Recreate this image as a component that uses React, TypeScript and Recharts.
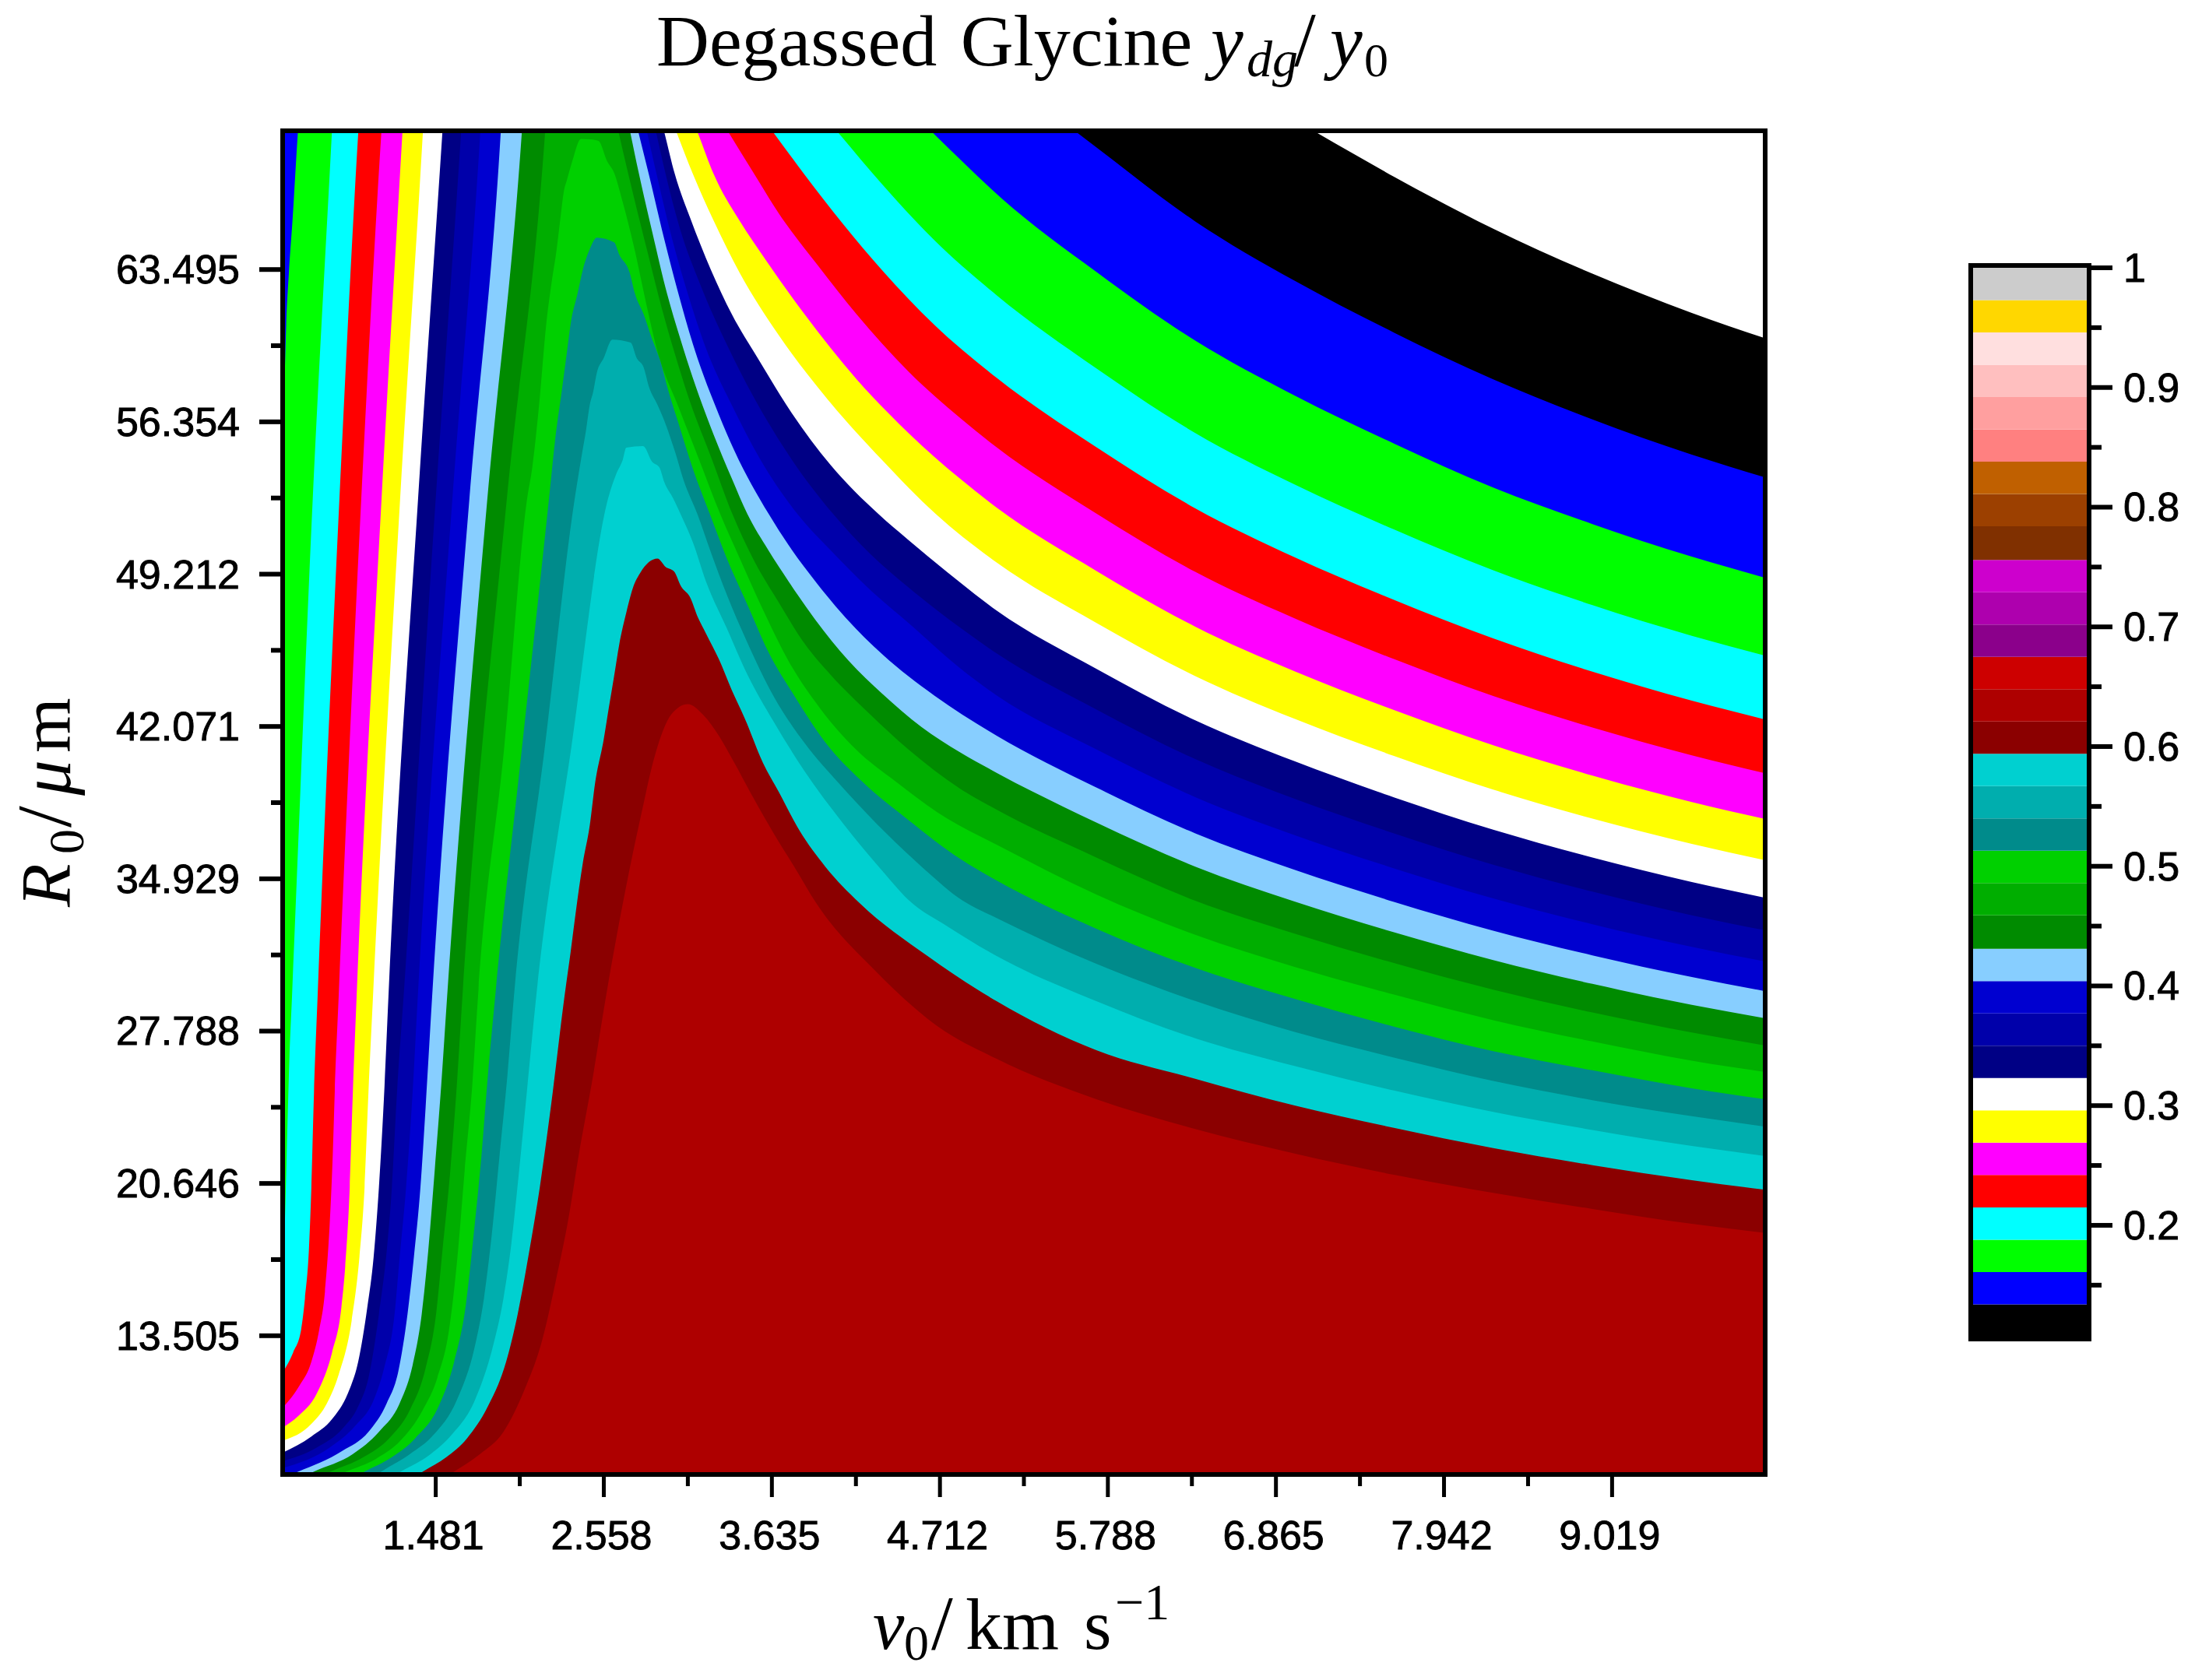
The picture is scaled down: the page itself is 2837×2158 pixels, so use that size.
import { Area, Bar, BarChart, ComposedChart, ReferenceArea, XAxis, YAxis } from "recharts"

// contour edges, [v0, R0]: upper edge of each filled band
const blackEdge = [[0.5,76],[6.8,71.3],[7.14,69.85],[7.621,67.85],[8.257,65.41],[8.893,63.3],[9.53,61.46],[10,60.27]]
const blueEdge = [[0.5,76],[5.3,71.4],[5.6,69.86],[5.711,69.24],[6.348,65.75],[6.984,62.97],[7.621,60.54],[8.257,58.35],[8.893,56.47],[9.53,54.82],[10,53.75]]
const greenEdge = [[0.5,56],[0.515,58.97],[0.523,60.92],[0.54,63.35],[0.563,65.78],[0.597,69.85],[0.64,74],[4.36,72],[4.676,69.84],[4.875,68.42],[5.075,67.04],[5.711,63.4],[6.348,60.16],[6.984,57.59],[7.621,55.34],[8.257,53.27],[8.893,51.56],[9.53,50.03],[10,49.04]]
const cyanEdge = [[0.5,16],[0.515,18.98],[0.526,21.96],[0.543,26.43],[0.56,29.41],[0.693,52.77],[0.815,69.85],[0.845,74],[3.7,73],[4.069,69.84],[4.343,67.48],[4.676,64.87],[5.075,62.29],[5.711,58.88],[6.348,55.83],[6.984,53.42],[7.621,51.31],[8.257,49.4],[8.893,47.76],[9.53,46.32],[10,45.39]]
const redEdge = [[0.5,11.77],[0.568,12.73],[0.618,13.77],[0.643,15.26],[0.668,17.49],[0.684,20.47],[0.701,24.94],[0.724,29.41],[0.864,52.77],[0.984,69.85],[1.02,74],[3.33,73],[3.653,69.84],[3.844,67.95],[4.094,65.6],[4.343,63.45],[4.676,60.9],[5.075,58.42],[5.711,55.18],[6.348,52.3],[6.984,50.01],[7.621,48.01],[8.257,46.2],[8.893,44.64],[9.53,43.28],[10,42.4]]
const magentaEdge = [[0.5,10.13],[0.601,11.09],[0.684,12.28],[0.734,13.77],[0.771,15.56],[0.801,18.68],[0.821,21.96],[0.834,24.94],[0.859,29.41],[1.004,52.77],[1.132,69.85],[1.17,74],[3.1,73],[3.365,69.84],[3.512,68.09],[3.678,66.14],[3.927,63.71],[4.177,61.4],[4.509,58.72],[4.842,56.53],[5.075,55.16],[5.711,52.07],[6.348,49.32],[6.984,47.14],[7.621,45.23],[8.257,43.5],[8.893,42.02],[9.53,40.72],[10,39.88]]
const yellowEdge = [[0.5,9.2],[0.601,9.75],[0.718,10.79],[0.817,12.73],[0.876,14.81],[0.901,16.75],[0.93,20.47],[0.95,24.94],[0.974,29.41],[1.134,52.77],[1.267,69.85],[1.3,74],[3.0,73],[3.164,69.84],[3.262,67.97],[3.428,65.78],[3.595,63.95],[3.844,61.4],[4.177,58.36],[4.509,55.84],[4.842,53.68],[5.075,52.33],[5.711,49.38],[6.348,46.75],[6.984,44.66],[7.621,42.84],[8.257,41.19],[8.893,39.77],[9.53,38.53],[10,37.73]]
const whiteEdge = [[0.5,8.58],[0.684,9.37],[0.784,10.34],[0.859,11.68],[0.942,14.2],[0.992,17.19],[1.025,20.47],[1.05,24.94],[1.079,29.41],[1.253,52.77],[1.398,69.85],[1.43,74],[2.86,73],[3.029,69.84],[3.129,67.97],[3.262,65.78],[3.428,63.35],[3.678,60.43],[4.01,57.25],[4.343,54.55],[4.684,52.04],[5.075,49.76],[5.711,46.94],[6.348,44.43],[6.984,42.43],[7.621,40.69],[8.257,39.11],[8.893,37.75],[9.53,36.57],[10,35.8]]
const navyEdge = [[0.5,8.02],[0.684,8.78],[0.817,9.6],[0.917,10.79],[0.984,12.28],[1.042,14.81],[1.083,17.19],[1.117,20.47],[1.153,25.24],[1.178,29.41],[1.368,52.77],[1.523,69.85],[1.56,74],[2.84,73],[2.949,69.84],[3.013,67.97],[3.112,65.9],[3.245,63.47],[3.378,61.4],[3.545,59.33],[3.761,56.78],[4.01,54.34],[4.318,52.03],[4.509,50.82],[4.759,49.3],[5.075,47.51],[5.711,44.79],[6.348,42.36],[6.984,40.44],[7.621,38.75],[8.257,37.23],[8.893,35.93],[9.53,34.78],[10,34.04]]
const blue2Edge = [[0.5,7.62],[0.718,8.26],[0.884,9.15],[0.984,10.19],[1.05,11.53],[1.117,14.51],[1.167,17.49],[1.2,20.47],[1.233,24.94],[1.275,29.41],[1.481,52.77],[1.643,69.85],[1.68,74],[2.8,73],[2.896,69.84],[2.954,67.97],[3.046,65.41],[3.179,62.74],[3.345,60],[3.512,57.6],[3.761,54.6],[4.027,52.04],[4.26,50.2],[4.509,48.6],[4.842,46.7],[5.075,45.5],[5.711,42.88],[6.348,40.54],[6.984,38.68],[7.621,37.06],[8.257,35.59],[8.893,34.33],[9.53,33.22],[10,32.51]]
const blue3Edge = [[0.5,7.3],[0.801,8.26],[0.967,9.3],[1.083,10.49],[1.15,11.98],[1.217,14.51],[1.25,17.19],[1.291,20.47],[1.333,24.94],[1.366,29.41],[1.588,52.77],[1.766,69.85],[1.8,74],[2.74,73],[2.838,69.84],[2.896,67.97],[2.996,64.93],[3.096,62.37],[3.212,59.82],[3.378,57.14],[3.561,54.59],[3.798,52.04],[4.01,50.34],[4.26,48.51],[4.509,46.93],[4.842,44.8],[5.075,43.53],[5.711,41.01],[6.348,38.76],[6.984,36.98],[7.621,35.42],[8.257,34.01],[8.893,32.8],[9.53,31.74],[10,31.05]]
const skyEdge = [[0.55,7],[0.601,7.14],[0.884,8.11],[1.05,9],[1.167,10.34],[1.241,11.83],[1.3,14.51],[1.341,17.19],[1.383,20.47],[1.416,24.2],[1.458,29.41],[1.697,52.77],[1.897,69.85],[1.93,74],[2.68,73],[2.783,69.84],[2.846,67.97],[2.946,64.9],[3.029,62.55],[3.129,60],[3.295,56.7],[3.395,55],[3.615,52.03],[3.744,50.55],[3.927,48.75],[4.11,47.15],[4.343,45.45],[4.676,43.52],[5.075,41.64],[5.711,39.22],[6.348,37.06],[6.984,35.35],[7.621,33.85],[8.257,32.5],[8.893,31.34],[9.53,30.32],[10,29.66]]
const green1Edge = [[0.66,7],[0.701,7.14],[0.95,7.96],[1.117,9],[1.25,10.34],[1.333,12.13],[1.391,14.51],[1.433,17.49],[1.474,21.22],[1.516,25.24],[1.554,29.41],[1.812,52.77],[2.032,69.85],[2.07,74],[2.64,73],[2.73,69.84],[2.78,68.09],[2.871,65.17],[2.963,62.37],[3.046,60.3],[3.129,58.4],[3.262,55.75],[3.378,53.7],[3.478,52.03],[3.611,50.35],[3.744,48.85],[3.911,47.1],[4.127,45.15],[4.343,43.6],[4.593,42.05],[4.842,40.85],[5.075,39.9],[5.711,37.58],[6.348,35.5],[6.984,33.86],[7.621,32.42],[8.257,31.12],[8.893,30],[9.53,29.02],[10,28.39]]
const green2Edge = [[0.765,7],[0.809,7.14],[1.017,7.81],[1.183,8.7],[1.316,10.04],[1.416,11.98],[1.483,14.51],[1.524,17.49],[1.574,21.22],[1.616,25.24],[1.652,29.41],[1.937,52.77],[2.181,69.85],[2.22,74],[2.55,73],[2.655,69.85],[2.68,69.06],[2.747,67],[2.838,64.32],[2.929,61.7],[3.013,59.55],[3.112,57.26],[3.245,54.71],[3.382,52.03],[3.512,49.97],[3.678,47.9],[3.844,45.96],[4.01,44.5],[4.26,42.67],[4.509,41],[4.842,39.15],[5.075,38.17],[5.711,35.94],[6.348,33.9],[6.984,32.36],[7.621,30.98],[8.257,29.73],[8.893,28.66],[9.53,27.72],[10,27.11]]
const green3Edge = [[0.864,7],[0.909,7.14],[1.1,7.74],[1.25,8.55],[1.399,10.04],[1.491,11.53],[1.566,13.77],[1.624,17.49],[1.666,21.22],[1.715,25.24],[1.752,29.41],[1.92,41.1],[2.067,52.77],[2.1,54.23],[2.145,57.27],[2.189,60.92],[2.223,62.86],[2.256,64.45],[2.278,65.78],[2.301,67.12],[2.323,67.73],[2.356,68.58],[2.412,69.62],[2.47,69.6],[2.524,69.53],[2.579,68.58],[2.624,68.03],[2.68,66.63],[2.755,64.44],[2.83,61.89],[2.896,59.82],[3.038,57.02],[3.162,54.71],[3.304,52.03],[3.428,49.97],[3.578,47.54],[3.744,45.11],[3.944,42.92],[4.177,40.97],[4.426,39.5],[4.759,37.75],[5.075,36.53],[5.711,34.2],[6.348,32.3],[6.984,30.8],[7.621,29.5],[8.257,28.3],[8.893,27.3],[9.53,26.4],[10,25.87]]
const teal1Edge = [[0.988,7],[1.025,7.14],[1.2,7.81],[1.35,8.7],[1.499,10.19],[1.599,12.28],[1.674,14.96],[1.724,18.24],[1.774,21.96],[1.815,25.69],[1.862,29.41],[2.034,41.1],[2.207,52.77],[2.245,55.44],[2.29,57.88],[2.323,59.7],[2.345,60.92],[2.39,62.38],[2.423,63.47],[2.468,64.45],[2.501,64.93],[2.512,64.99],[2.624,64.77],[2.657,64.2],[2.724,63.35],[2.757,62.38],[2.813,61.4],[2.858,60.43],[2.925,59.09],[2.969,57.88],[3.036,56.3],[3.125,54.23],[3.237,52.04],[3.345,49.97],[3.478,47.78],[3.611,45.59],[3.778,43.52],[3.977,41.33],[4.21,39.51],[4.509,37.69],[4.842,35.86],[5.075,34.85],[5.711,32.6],[6.348,30.75],[6.984,29.3],[7.621,28],[8.257,26.85],[8.893,25.95],[9.53,25.1],[10,24.59]]
const teal2Edge = [[1.102,7],[1.133,7.14],[1.316,7.96],[1.466,8.85],[1.616,10.49],[1.732,13.02],[1.79,15.26],[1.84,18.24],[1.89,21.96],[1.94,25.69],[1.982,29.41],[2.18,41.1],[2.372,52.77],[2.412,54.59],[2.446,56.05],[2.468,57.15],[2.49,57.76],[2.512,58.61],[2.557,59.34],[2.613,60.21],[2.73,60.07],[2.769,59.34],[2.813,58.91],[2.847,58],[2.902,57.15],[2.958,56.17],[3.014,54.96],[3.069,53.62],[3.157,52.04],[3.245,50.22],[3.345,48.27],[3.478,46],[3.645,43.5],[3.844,41.3],[4.077,39.3],[4.376,37],[4.609,35.4],[4.859,33.9],[5.075,33.09],[5.711,30.95],[6.348,29.2],[6.984,27.75],[7.621,26.55],[8.257,25.45],[8.893,24.55],[9.53,23.8],[10,23.31]]
const teal3Edge = [[1.225,7],[1.258,7.14],[1.449,7.96],[1.582,8.85],[1.732,10.49],[1.848,13.02],[1.915,15.26],[1.965,17.79],[2.015,21.22],[2.065,24.94],[2.125,29.41],[2.35,41.1],[2.586,52.77],[2.635,53.86],[2.68,54.59],[2.702,55.14],[2.809,55.22],[2.869,54.47],[2.913,54.23],[2.947,53.5],[3.002,52.77],[3.049,52.04],[3.129,50.7],[3.212,48.88],[3.345,46.69],[3.478,44.5],[3.645,42.31],[3.844,39.98],[4.094,37.5],[4.343,35.3],[4.509,33.95],[4.76,32.7],[5.075,31.31],[5.711,29.2],[6.348,27.45],[6.984,26.15],[7.621,25],[8.257,24],[8.893,23.15],[9.53,22.4],[10,21.93]]
const darkRedEdge = [[1.368,7],[1.399,7.14],[1.549,7.81],[1.682,8.7],[1.815,10.19],[1.932,12.28],[2.006,14.51],[2.081,17.49],[2.148,20.47],[2.231,24.94],[2.306,29.41],[2.345,31.47],[2.379,33.4],[2.423,35.64],[2.468,37.43],[2.501,39.36],[2.557,41.45],[2.59,42.94],[2.624,44.43],[2.657,45.92],[2.702,47.41],[2.746,48.6],[2.791,49.27],[2.902,49.94],[2.954,49.55],[3.008,49.34],[3.054,48.63],[3.109,48.15],[3.162,47.17],[3.212,46.44],[3.295,45.23],[3.378,43.77],[3.462,42.43],[3.578,40.36],[3.678,39.02],[3.811,37.2],[3.977,35.5],[4.197,33.79],[4.636,31.29],[5.075,29.19],[5.711,26.9],[6.348,25.55],[6.984,24.3],[7.621,23.25],[8.257,22.3],[8.893,21.5],[9.53,20.8],[10,20.35]]
const midRedEdge = [[1.57,7],[1.599,7.14],[1.765,7.96],[1.915,9],[2.048,10.94],[2.164,13.32],[2.248,16],[2.331,18.98],[2.397,21.96],[2.489,25.69],[2.572,29.41],[2.702,34.6],[2.791,37.72],[2.891,40.85],[2.991,42.64],[3.096,43.12],[3.196,42.61],[3.295,41.64],[3.395,40.36],[3.512,38.78],[3.645,37.08],[3.778,35.5],[3.919,33.79],[4.3,30.6],[4.7,28],[5.075,26.49],[5.711,24.6],[6.348,23.2],[6.984,22.05],[7.621,21.05],[8.257,20.2],[8.893,19.45],[9.53,18.75],[10,18.32]]

const contourEdges = [blackEdge, blueEdge, greenEdge, cyanEdge, redEdge, magentaEdge, yellowEdge, whiteEdge, navyEdge, blue2Edge, blue3Edge, skyEdge, green1Edge, green2Edge, green3Edge, teal1Edge, teal2Edge, teal3Edge, darkRedEdge, midRedEdge]
const contourColors = ["#000000", "#0000ff", "#00ff00", "#00ffff", "#ff0000", "#ff00ff", "#ffff00", "#ffffff", "#000085", "#0000aa", "#0000d0", "#87ceff", "#008b00", "#00ae00", "#00d000", "#008b8b", "#00aeae", "#00d0d0", "#8b0000", "#ae0000"]

// colour scale, bottom to top
const scaleTops = [0.134, 0.161, 0.188, 0.215, 0.242, 0.269, 0.296, 0.323, 0.35, 0.377, 0.404, 0.431, 0.459, 0.486, 0.513, 0.54, 0.567, 0.594, 0.621, 0.648, 0.675, 0.702, 0.729, 0.756, 0.784, 0.811, 0.838, 0.865, 0.892, 0.919, 0.946, 0.973, 1]
const scaleColors = [...contourColors, "#cd0000", "#8b008b", "#ae00ae", "#cd00cd", "#803000", "#9c4000", "#c06000", "#ff8080", "#ff9f9f", "#ffbfbf", "#ffdfdf", "#ffd700", "#cccccc"]

const xMajor = [1.481, 2.558, 3.635, 4.712, 5.788, 6.865, 7.942, 9.019]
const xMinor = [2.0195, 3.0965, 4.1735, 5.25, 6.3265, 7.4035, 8.4805]
const yMajor = [13.505, 20.646, 27.788, 34.929, 42.071, 49.212, 56.354, 63.495]
const yMinor = [17.0755, 24.217, 31.3585, 38.5, 45.6415, 52.783, 59.9245]
const zMajor = [0.2, 0.3, 0.4, 0.5, 0.6, 0.7, 0.8, 0.9, 1]
const zMinor = [0.15, 0.25, 0.35, 0.45, 0.55, 0.65, 0.75, 0.85, 0.95]

const scaleRow = Object.fromEntries(scaleTops.map((top, i) => ["band" + i, i === 0 ? top : top - scaleTops[i - 1]]))

const sans = "'Liberation Sans', Arial, sans-serif"
const serif = "'Liberation Serif', 'Times New Roman', serif"

function XTick({ x, y, payload }: any) {
  const major = xMajor.includes(payload.value)
  return (
    <g>
      <line x1={x} x2={x} y1={y} y2={y + (major ? 29 : 15)} stroke="#000" strokeWidth={5} />
      {major && <text x={x - 3} y={y + 96} textAnchor="middle" fontFamily={sans} fontSize={52} fill="#000" stroke="#000" strokeWidth={0.9}>{payload.value.toFixed(3)}</text>}
    </g>
  )
}

function YTick({ x, y, payload }: any) {
  const major = yMajor.includes(payload.value)
  return (
    <g>
      <line x1={x} x2={x - (major ? 30 : 15)} y1={y} y2={y} stroke="#000" strokeWidth={6} />
      {major && <text x={x - 55} y={y + 18} textAnchor="end" fontFamily={sans} fontSize={52} fill="#000" stroke="#000" strokeWidth={0.9}>{payload.value.toFixed(3)}</text>}
    </g>
  )
}

function ScaleTick({ x, y, payload }: any) {
  const major = zMajor.includes(payload.value)
  return (
    <g>
      <line x1={x + 6} x2={x + (major ? 33 : 19)} y1={y} y2={y} stroke="#000" strokeWidth={6} />
      {major && <text x={x + 47} y={y + 18} fontFamily={sans} fontSize={52} fill="#000" stroke="#000" strokeWidth={0.9}>{payload.value === 1 ? "1" : payload.value.toFixed(1)}</text>}
    </g>
  )
}

export default function App() {
  return (
    <div style={{ position: "absolute", left: 0, top: 0, width: 2837, height: 2158, background: "#fff", overflow: "hidden" }}>
      <div style={{ position: "absolute", left: 0, top: 0 }}>
        <ComposedChart width={2837} height={2158} margin={{ top: 168, right: 570, bottom: 164, left: 263 }}>
          <XAxis
            dataKey="v"
            type="number"
            domain={[0.5, 10]}
            allowDataOverflow
            ticks={[...xMajor, ...xMinor].sort((a, b) => a - b)}
            interval={0}
            height={100}
            tickSize={0}
            tickMargin={0}
            tickLine={false}
            axisLine={false}
            tick={<XTick />}
          />
          <YAxis
            dataKey="r"
            type="number"
            domain={[7, 70]}
            allowDataOverflow
            ticks={[...yMajor, ...yMinor].sort((a, b) => a - b)}
            interval={0}
            width={100}
            tickSize={0}
            tickMargin={0}
            tickLine={false}
            axisLine={false}
            tick={<YTick />}
          />
          {contourEdges.map((edge, i) => (
            <Area
              key={i}
              data={edge.map(([v, r]) => ({ v, r }))}
              dataKey="r"
              type="monotone"
              baseValue={7}
              fill={contourColors[i]}
              fillOpacity={1}
              stroke="none"
              dot={false}
              activeDot={false}
              isAnimationActive={false}
            />
          ))}
          <ReferenceArea x1={0.5} x2={10} y1={7} y2={70} fill="none" stroke="#000" strokeWidth={6} ifOverflow="visible" />
        </ComposedChart>
      </div>

      <div style={{ position: "absolute", left: 0, top: 0 }}>
        <BarChart width={2837} height={2158} data={[scaleRow]} barCategoryGap={0} margin={{ top: 344, right: 37, bottom: 438, left: 2534 }}>
          <XAxis hide />
          <YAxis
            orientation="right"
            type="number"
            domain={[0.105, 1]}
            allowDataOverflow
            ticks={[...zMajor, ...zMinor].sort((a, b) => a - b)}
            interval={0}
            width={120}
            tickSize={0}
            tickMargin={0}
            tickLine={false}
            axisLine={false}
            tick={<ScaleTick />}
          />
          {scaleTops.map((_, i) => (
            <Bar key={i} dataKey={"band" + i} stackId="scale" fill={scaleColors[i]} isAnimationActive={false} />
          ))}
        </BarChart>
      </div>
      <div style={{ position: "absolute", left: 2528, top: 338, width: 158, height: 1385, border: "6px solid #000", boxSizing: "border-box" }} />

      <svg width={2837} height={2158} style={{ position: "absolute", left: 0, top: 0, pointerEvents: "none" }} fill="#000">
        <g fontFamily={serif}>
          <text x={843} y={84} fontSize={94} wordSpacing={7}>Degassed Glycine</text>
          <text x={1555} y={84} fontSize={94} fontStyle="italic">y</text>
          <text x={1601} y={98} fontSize={66} fontStyle="italic">dg</text>
          <text x={1662} y={84} fontSize={100}>/</text>
          <text x={1708} y={84} fontSize={94} fontStyle="italic">y</text>
          <text x={1752} y={98} fontSize={62}>0</text>

          <text x={1121} y={2118} fontSize={91} fontStyle="italic">v</text>
          <text x={1161} y={2132} fontSize={64}>0</text>
          <text x={1196} y={2118} fontSize={100}>/</text>
          <text x={1240} y={2118} fontSize={94}>km</text>
          <text x={1392} y={2118} fontSize={91}>s</text>
          <text x={1432} y={2080} fontSize={66}>−1</text>

          <g transform="translate(90,1165) rotate(-90)">
            <text x={0} y={0} fontSize={91} fontStyle="italic">R</text>
            <text x={68} y={17} fontSize={64}>0</text>
            <text x={102} y={0} fontSize={100}>/</text>
            <text x={143} y={0} fontSize={91} fontStyle="italic">μ</text>
            <text x={198} y={0} fontSize={91}>m</text>
          </g>
        </g>
      </svg>
    </div>
  )
}
